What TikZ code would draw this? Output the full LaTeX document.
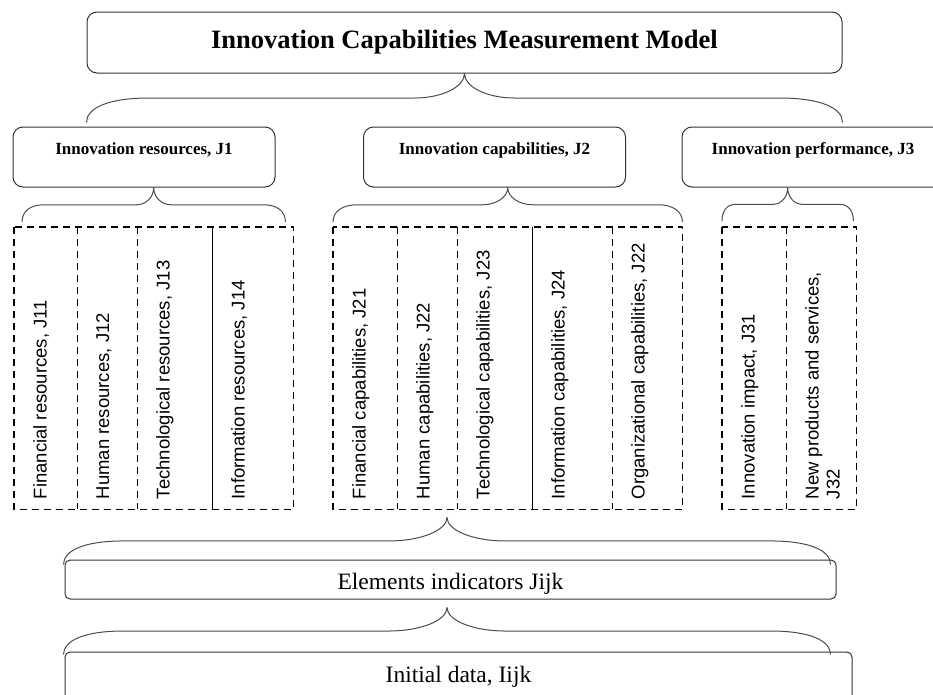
\documentclass[tikz,border=0pt]{standalone}
\usepackage{fontspec}
\setmainfont{Liberation Serif}
\newfontfamily\arial{Liberation Sans}
\usetikzlibrary{calc}
% curly bracket: left end, right end, tip level, end curl, tip curl
\newcommand\curly[5]{%
\path ($(#1)!.5!(#2)$) coordinate (mid) (mid |- #3) coordinate (tip) ($(#1)!.5!(tip)$) coordinate (lev);
\draw[brc] (#1) .. controls ($(#1)!.6!(#1 |- lev)$) and ($(#1 |- lev)+(.35*#4,0)$) .. ($(#1 |- lev)+(#4,0)$)
 -- ($(tip |- lev)-(#5,0)$) .. controls ($(tip |- lev)-(.45*#5,0)$) and ($(tip)!.55!(tip |- lev)$) .. (tip)
 .. controls ($(tip)!.55!(tip |- lev)$) and ($(tip |- lev)+(.45*#5,0)$) .. ($(tip |- lev)+(#5,0)$)
 -- ($(#2 |- lev)-(#4,0)$) .. controls ($(#2 |- lev)-(.35*#4,0)$) and ($(#2)!.6!(#2 |- lev)$) .. (#2);}
\begin{document}
\begin{tikzpicture}[x=1pt, y=-1pt, line join=round,
 box/.style={draw=black!80, line width=1pt, rounded corners=10pt, inner sep=0pt},
 head/.style={box, minimum width=262pt, minimum height=60pt, text height=12pt, text depth=18pt, font=\fontsize{17}{20}\selectfont\bfseries},
 base/.style={box, rounded corners=5pt, font=\fontsize{23.5}{26}\selectfont},
 cell/.style={anchor=north west, minimum height=282pt, inner sep=0pt},
 vtext/.style={rotate=90, anchor=north west, inner sep=0pt, align=left, font=\arial\fontsize{18.5}{21}\selectfont},
 dline/.style={line width=1.8pt, dash pattern=on 7pt off 5pt},
 brc/.style={draw=black!70, line width=1pt}]
\useasboundingbox (0,0) rectangle (933,694);
\clip (0,0) rectangle (933,694);
\node[box, minimum width=755pt, minimum height=61pt, font=\fontsize{26.5}{30}\selectfont\bfseries] (model) at (464.5,42.5) {Innovation Capabilities Measurement Model};
\node[head] (res) at (144,157) {Innovation resources, J1};
\node[head] (cap) at (494.5,157) {Innovation capabilities, J2};
\node[head] (perf) at (813,157) {Innovation performance, J3};
\foreach \n/\x/\w/\t in {r1/14/63/{Financial resources, J11}, r2/77/60/{Human resources, J12}, r3/137/75/{Technological resources, J13}, r4/212/81/{Information resources, J14}, c1/333/64/{Financial capabilities, J21}, c2/397/60/{Human capabilities, J22}, c3/457/75/{Technological capabilities, J23}, c4/532/80/{Information capabilities, J24}, c5/612/70/{Organizational capabilities, J22}, p1/722/64/{Innovation impact, J31}, p2/786/70/{New products and services,\\J32}}
 {\node[cell, minimum width=\w pt] (\n) at (\x,227) {};
  \node[vtext] (\n-t) at ($(\n.south west)+(19,-10)$) {\t};}
\draw[dline] (r1.north west) rectangle (r4.south east) (c1.north west) rectangle (c5.south east) (p1.north west) rectangle (p2.south east);
\foreach \n in {r1,r2,c1,c2,c4,p1} \draw[dline] (\n.north east) -- (\n.south east);
\foreach \n in {r3,c3} \draw[line width=1.2pt] (\n.north east) -- (\n.south east);
\node[base, minimum width=771pt, minimum height=39pt, text height=20pt, text depth=0pt] (elem) at (450.5,579.5) {Elements indicators Jijk};
\node[base, minimum width=787pt, minimum height=50pt, text height=16pt, text depth=6pt] (init) at (458.5,677) {Initial data, Iijk};
\path ($(model.south west |- res.north)+(0,-4)$) coordinate (m1) ($(model.south east |- res.north)+(0,-4)$) coordinate (m2)
 ($(r1.north west)+(8,-5)$) coordinate (a1) ($(r4.north east)+(-8,-5)$) coordinate (a2)
 ($(c1.north west)+(0,-5)$) coordinate (b1) ($(c5.north east)+(0,-5)$) coordinate (b2)
 ($(p1.north west)+(0,-6)$) coordinate (d1) ($(p2.north east)+(-3,-6)$) coordinate (d2)
 ($(elem.north west)+(-1,5)$) coordinate (e1) ($(elem.north east)+(-6,5)$) coordinate (e2) ($(c2.south east)+(0,8)$) coordinate (e0)
 ($(init.north west)+(-1,3)$) coordinate (i1) ($(init.north east)+(-22,3)$) coordinate (i2) ($(elem.south)+(0,8)$) coordinate (i0);
\curly{m1}{m2}{model.south}{63}{50}
\curly{a1}{a2}{res.south}{22}{17}
\curly{b1}{b2}{cap.south}{25}{25}
\curly{d1}{d2}{perf.south}{14}{14}
\curly{e1}{e2}{e0}{60}{58}
\curly{i1}{i2}{i0}{60}{58}
\end{tikzpicture}
\end{document}
